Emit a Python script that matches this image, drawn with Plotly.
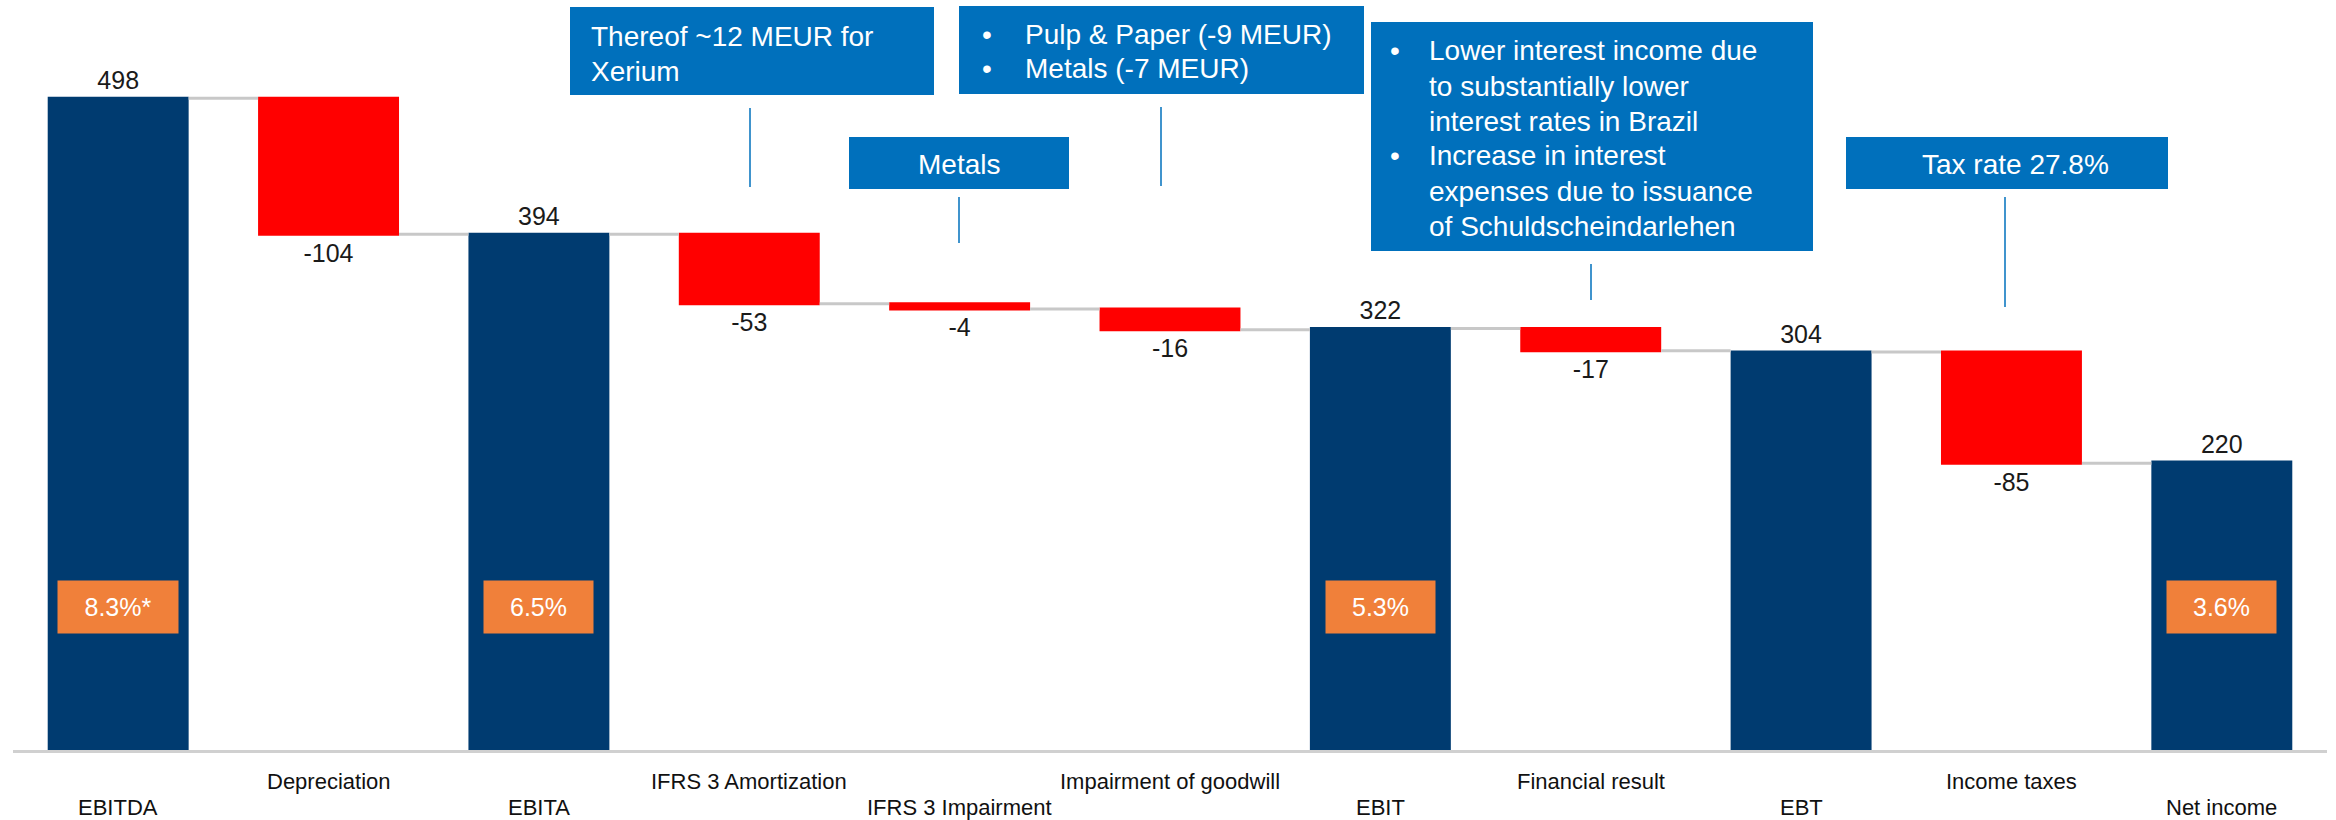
import plotly.graph_objects as go

# ---------------- data ----------------
categories = ["EBITDA", "Depreciation", "EBITA", "IFRS 3 Amortization", "IFRS 3 Impairment",
              "Impairment of goodwill", "EBIT", "Financial result", "EBT", "Income taxes", "Net income"]
values = [498, -104, 394, -53, -4, -16, 322, -17, 304, -85, 220]
measures = ["absolute", "relative", "absolute", "relative", "relative", "relative",
            "absolute", "relative", "absolute", "relative", "absolute"]
value_labels = ["498", "-104", "394", "-53", "-4", "-16", "322", "-17", "304", "-85", "220"]
margin_cats = ["EBITDA", "EBITA", "EBIT", "Net income"]
margin_texts = ["8.3%*", "6.5%", "5.3%", "3.6%"]

FONT = "Liberation Sans, Arial, sans-serif"
NAVY = "#003B70"
RED = "#FF0000"
ORANGE = "#F0803A"
BLUE = "#0070BC"

# pixel helpers (plot area: x 13..2327, y 0..750)
PL, PW, PH = 13, 2314, 750
def px(x):
    return (x - PL) / PW
def py(y):
    return (PH - y) / PH

fig = go.Figure(go.Waterfall(
    x=categories, y=values, measure=measures,
    text=value_labels, textinfo="text", textposition="outside", constraintext="none",
    outsidetextfont=dict(size=25, color="#1a1a1a", family=FONT),
    totals=dict(marker=dict(color=NAVY, line=dict(width=0))),
    decreasing=dict(marker=dict(color=RED, line=dict(width=0))),
    increasing=dict(marker=dict(color=NAVY, line=dict(width=0))),
    connector=dict(line=dict(color="#C8C8C8", width=3), mode="between"),
    cliponaxis=False, hoverinfo="skip",
))

shapes = []
annotations = []

# category labels, staggered
for i, c in enumerate(categories):
    annotations.append(dict(x=c, xref="x", y=0, yref="paper", yanchor="middle",
                            yshift=(-31 if i % 2 else -57), text=c, showarrow=False,
                            font=dict(size=22, color="#111", family=FONT)))

# orange margin boxes
for c, t in zip(margin_cats, margin_texts):
    annotations.append(dict(x=c, xref="x", y=py(607), yref="paper", yanchor="middle",
                            text=t, showarrow=False, bgcolor=ORANGE, borderpad=0,
                            width=(120 if t.endswith("*") else 109), height=52,
                            font=dict(size=25, color="white", family=FONT)))

# callout boxes: (x0, y0, x1, y1)
boxes = [(570, 7, 934, 95), (849, 137, 1069, 189), (959, 6, 1364, 94),
         (1371, 22, 1813, 251), (1846, 137, 2168, 189)]
for x0, y0, x1, y1 in boxes:
    shapes.append(dict(type="rect", xref="paper", yref="paper", x0=px(x0), x1=px(x1),
                       y0=py(y1), y1=py(y0), fillcolor=BLUE, line=dict(width=0), layer="above"))

# callout leader lines: (x, y0, y1)
leaders = [(750, 108, 187), (959, 197, 243), (1161, 107, 186), (1591, 264, 300), (2005, 197, 307)]
for x, y0, y1 in leaders:
    shapes.append(dict(type="line", xref="paper", yref="paper", x0=px(x), x1=px(x),
                       y0=py(y0), y1=py(y1), line=dict(color=BLUE, width=1.5)))

BOXFONT = dict(size=28, color="white", family=FONT)

def line_text(x, y, t, anchor="left"):
    annotations.append(dict(x=px(x), xref="paper", y=py(y), yref="paper", xanchor=anchor,
                            yanchor="middle", text=t, showarrow=False, font=BOXFONT))

line_text(589, 36, "Thereof ~12 MEUR for")
line_text(589, 71, "Xerium")
line_text(959, 164, "Metals", "center")
line_text(2015, 164, "Tax rate 27.8%", "center")
# Pulp & Paper
for y, t in [(34, "Pulp &amp; Paper (-9 MEUR)"), (69, "Metals (-7 MEUR)")]:
    line_text(1023, y, t)
for y in [34, 69]:
    line_text(987, y, "•", "center")
# Financial result
fin_lines = ["Lower interest income due", "to substantially lower", "interest rates in Brazil",
             "Increase in interest", "expenses due to issuance", "of Schuldscheindarlehen"]
for k, t in enumerate(fin_lines):
    line_text(1427, 51 + 35 * k, t)
for y in [51, 156]:
    line_text(1395, y, "•", "center")

fig.update_layout(
    width=2336, height=820,
    margin=dict(l=13, r=9, t=0, b=70),
    plot_bgcolor="white", paper_bgcolor="white",
    waterfallgap=0.33,
    showlegend=False,
    font=dict(family=FONT),
    xaxis=dict(showticklabels=False, ticks="", showgrid=False, showline=True,
               linecolor="#D0D0D0", linewidth=3, zeroline=False),
    yaxis=dict(range=[0, 573], visible=False, showgrid=False, zeroline=False),
    shapes=shapes, annotations=annotations,
)

fig.write_html("out.html", config={"displayModeBar": False},
               post_script="document.body.style.margin='0';document.body.style.overflow='hidden';")
